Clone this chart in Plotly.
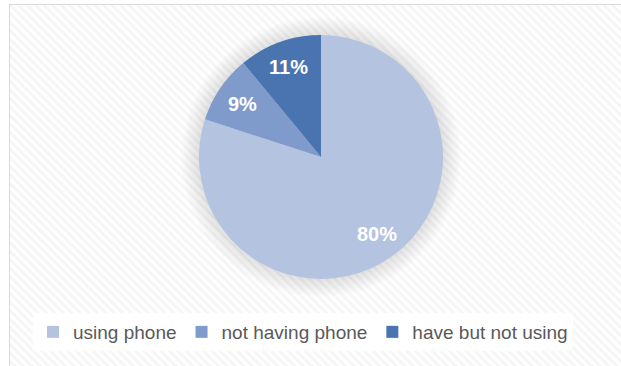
import numpy as np
import plotly.graph_objects as go

labels = ["using phone", "not having phone", "have but not using"]
values = [80, 9, 11]
colors = ["#B4C3DF", "#7F9BCB", "#4A74B0"]

W, H = 621, 366
fig = go.Figure()

# hatched background panel
fig.add_trace(go.Bar(
    x=[0.5], y=[1], width=[1],
    marker=dict(color="white",
                pattern=dict(shape="\\", fgcolor="#ebebeb", bgcolor="white", size=6, solidity=0.45),
                line=dict(color="#d9d9d9", width=2)),
    hoverinfo="skip", showlegend=False,
))

# pie geometry (pixels)
cx, cy, r = 321, 157, 122
label_frac = 0.78

def dom(rad):
    return dict(x=[(cx - rad) / W, (cx + rad) / W],
                y=[(H - cy - rad) / H, (H - cy + rad) / H])

# soft glow shadow
for k in range(18, 0, -2):
    fig.add_trace(go.Pie(values=[1], marker=dict(colors=["rgba(0,0,0,0.012)"], line=dict(width=0)),
                         domain=dom(r + k), textinfo="none", hoverinfo="skip",
                         showlegend=False, sort=False))

fig.add_trace(go.Pie(
    labels=labels, values=values, sort=False, direction="clockwise", rotation=0,
    marker=dict(colors=colors, line=dict(width=0)),
    domain=dom(r), textinfo="none",
))

# data labels placed Excel-style, derived from the values
total = sum(values)
cum = np.cumsum([0] + values[:-1])
for v, c0 in zip(values, cum):
    ang = np.deg2rad((c0 + v / 2) / total * 360)
    px = cx + label_frac * r * np.sin(ang)
    py = cy - label_frac * r * np.cos(ang)
    fig.add_annotation(x=px / W, y=(H - py) / H, xref="paper", yref="paper",
                       xanchor="center", yanchor="middle",
                       text=f"<b>{v}%</b>", showarrow=False,
                       font=dict(family="Liberation Sans", size=20, color="white"))

fig.update_layout(
    width=W, height=H, margin=dict(l=0, r=0, t=0, b=0),
    paper_bgcolor="white", plot_bgcolor="white",
    xaxis=dict(domain=[9 / W, 1], range=[0, 0.98], visible=False, fixedrange=True),
    yaxis=dict(domain=[0, (H - 4) / H], range=[0.02, 1], visible=False, fixedrange=True),
    showlegend=True,
    legend=dict(orientation="h", x=33 / W, xanchor="left", y=(H - 332) / H, yanchor="middle",
                bgcolor="white",
                font=dict(family="Liberation Sans", size=19, color="#595959"),
                itemwidth=30, traceorder="normal"),
    bargap=0,
)
fig.write_html("out.html")
